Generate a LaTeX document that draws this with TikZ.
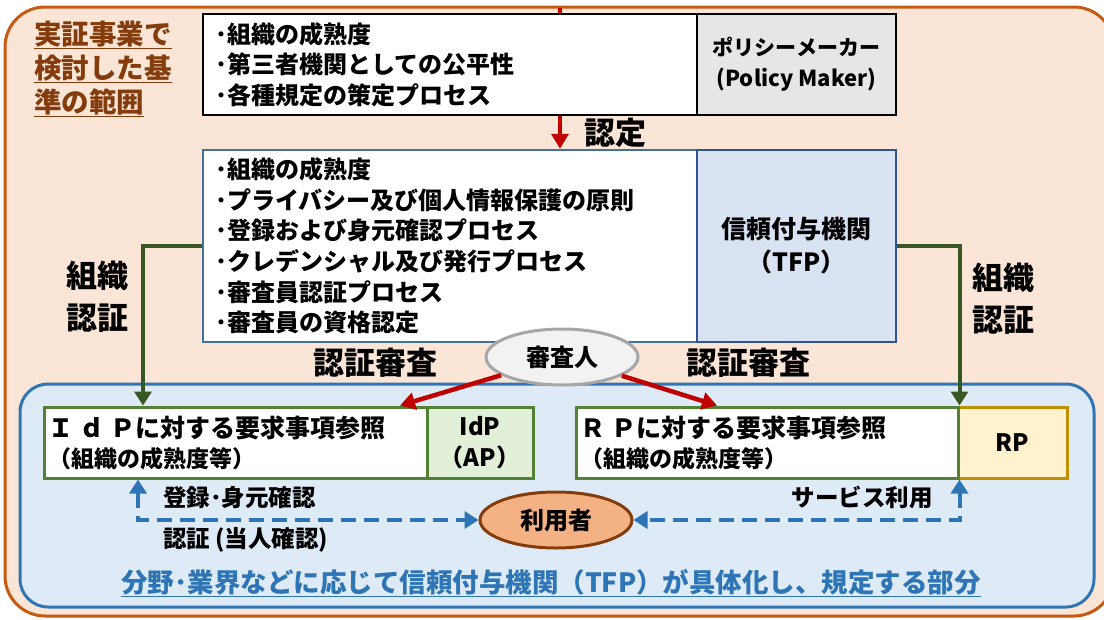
\documentclass[tikz,border=0pt]{standalone}
\usepackage{fontspec}
\setmainfont{Noto Sans CJK JP}
\usetikzlibrary{shapes.geometric,arrows.meta}
\definecolor{orline}{HTML}{C55A11}
\definecolor{orfill}{HTML}{FBE5D6}
\definecolor{brown}{HTML}{843C0C}
\definecolor{lineblue}{HTML}{2E75B6}
\definecolor{bgblue}{HTML}{DEEBF7}
\definecolor{tfpline}{HTML}{41719C}
\definecolor{tfpdark}{HTML}{2F5597}
\definecolor{tfpfill}{HTML}{DAE3F3}
\definecolor{pmgray}{HTML}{E7E6E6}
\definecolor{dgreen}{HTML}{385723}
\definecolor{mgreen}{HTML}{548235}
\definecolor{idpfill}{HTML}{E2F0D9}
\definecolor{gold}{HTML}{BF9000}
\definecolor{rpfill}{HTML}{FFF2CC}
\definecolor{dred}{HTML}{C00000}
\definecolor{audfill}{HTML}{F2F2F2}
\definecolor{audline}{HTML}{A6A6A6}
\definecolor{userfill}{HTML}{F4B183}
\newcommand\myfs[2]{\fontsize{#1}{#2}\selectfont}
\tikzset{
  listbox/.style={draw, line width=2.5pt, align=left, inner xsep=12pt, inner ysep=0pt, font={\myfs{24}{30.6}\bfseries}},
  sidebox/.style={draw, line width=2.5pt, align=center, inner sep=0pt, font={\myfs{21}{31}\bfseries}},
  smallbox/.style={draw, line width=3pt, inner sep=0pt},
  lbl/.style={inner sep=0pt, font={\myfs{31}{42}\bfseries}, align=center},
  txt/.style={inner sep=0pt, font={\myfs{23.5}{30}\bfseries}, align=left},
  redarrow/.style={draw=dred, line width=4.5pt, -{Triangle[length=15pt,width=17pt]}},
  greenarrow/.style={draw=dgreen, line width=4pt, -{Triangle[length=14pt,width=17pt]}},
  bluedash/.style={draw=lineblue, line width=4pt, dash pattern=on 15pt off 8pt, {Triangle[length=14pt,width=17pt]}-{Triangle[length=14pt,width=17pt]}},
  oval/.style={ellipse, line width=3pt, minimum width=152pt, minimum height=56pt, inner sep=0pt, font={\myfs{24}{30}\bfseries}}
}
\begin{document}
\begin{tikzpicture}[x=1pt,y=-1pt]
\useasboundingbox (0,0) rectangle (1104,619);
\begin{scope}
\clip (0,0) rectangle (1104,619);
\draw[fill=orfill, draw=orline, line width=3pt, rounded corners=40pt] (5,7) rectangle (1114,616);
\end{scope}
\draw[fill=bgblue, draw=lineblue, line width=3pt, rounded corners=28pt] (20,384) rectangle (1094,607);

% title label
\node[inner sep=0pt, align=left, text=brown, font={\myfs{27.5}{34}\bfseries}] (title) at (103,69)
  {\underline{実証事業で}\\\underline{検討した基}\\\underline{準の範囲}};

% TFP box
\node[listbox, draw=tfpline, fill=white, minimum width=494pt, minimum height=192pt, text width=470pt] (tfpL) at (450,246)
  {･組織の成熟度\\･プライバシー及び個人情報保護の原則\\･登録および身元確認プロセス\\･クレデンシャル及び発行プロセス\\･審査員認証プロセス\\･審査員の資格認定};
\node[sidebox, draw=tfpdark, fill=tfpfill, minimum width=199pt, minimum height=192pt, font={\myfs{25}{33}\bfseries}] (tfpR) at (796.5,246)
  {信頼付与機関\\（TFP）};

% red arrow from top
\coordinate (rtop) at (560,8);
\draw[redarrow] (rtop) -- (rtop |- tfpL.north);

% policy maker box
\node[listbox, draw=black, fill=white, minimum width=494pt, minimum height=101pt, text width=470pt] (pmL) at (450,64.5)
  {･組織の成熟度\\･第三者機関としての公平性\\･各種規定の策定プロセス};
\node[sidebox, draw=black, fill=pmgray, minimum width=199pt, minimum height=101pt] (pmR) at (796.5,64.5)
  {ポリシーメーカー\\{\myfs{22}{31}(Policy Maker)}};

\node[lbl] (nintei) at (615,133) {認定};

% IdP and RP boxes
\node[smallbox, draw=mgreen, fill=white, minimum width=383pt, minimum height=71pt] (idpL) at (235.5,442.5) {};
\node[smallbox, draw=mgreen, fill=idpfill, minimum width=106pt, minimum height=71pt, align=center, font={\myfs{24}{31}\bfseries}] (idpR) at (480,442.5) {IdP\\（AP）};
\node[smallbox, draw=gold, fill=rpfill, minimum width=109pt, minimum height=71pt, font={\myfs{24}{31}\bfseries}] (rpR) at (1012.5,442.5) {RP};
\node[smallbox, draw=mgreen, fill=white, minimum width=382pt, minimum height=71pt] (rpL) at (767,442.5) {};

\node[txt, anchor=west, font={\myfs{25}{30}\bfseries}] (idpT) at (idpL.west) [xshift=6pt]
  {Ｉ ｄ Ｐに対する要求事項参照\\{\myfs{23}{30}\bfseries （組織の成熟度等）}};
\node[txt, anchor=west, font={\myfs{25}{30}\bfseries}] (rpT) at (rpL.west) [xshift=6pt]
  {Ｒ Ｐに対する要求事項参照\\{\myfs{23}{30}\bfseries （組織の成熟度等）}};

% auditor and user
\node[oval, draw=audline, fill=audfill] (aud) at (562,357) {審査人};
\node[oval, draw=brown, fill=userfill] (user) at (556,520) {利用者};

% green connectors
\coordinate (gl) at (143,0);
\draw[greenarrow] (tfpL.west) -| (gl |- idpL.north);
\draw[greenarrow] (tfpR.east) -| (rpL.north east);

% red audit arrows
\coordinate (ra) at (400,0);
\coordinate (rb) at (717,0);
\draw[redarrow] (aud) -- (ra |- idpL.north);
\draw[redarrow] (aud) -- (rb |- rpL.north);

% blue dashed
\coordinate (bl) at (138,0);
\draw[bluedash] (bl |- idpL.south) |- (user.west);
\draw[bluedash] (rpL.south east) |- (user.east);

% labels
\node[lbl] (sosL) at (97,297) {組織\\認証};
\node[lbl] (sosR) at (1003,299) {組織\\認証};
\node[lbl] (shinL) at (375,363) {認証審査};
\node[lbl] (shinR) at (748,363) {認証審査};
\node[txt, anchor=west] (reg) at (163,498) {登録･身元確認};
\node[txt, anchor=west] (auth) at (163,540) {認証 (当人確認)};
\node[txt] (svc) at (862,497) {サービス利用};
\node[inner sep=0pt, text=lineblue, font={\myfs{26.5}{30}\bfseries}] (bottom) at (551,583)
  {\underline{分野･業界などに応じて信頼付与機関（TFP）が具体化し、規定する部分}};
\end{tikzpicture}
\end{document}
